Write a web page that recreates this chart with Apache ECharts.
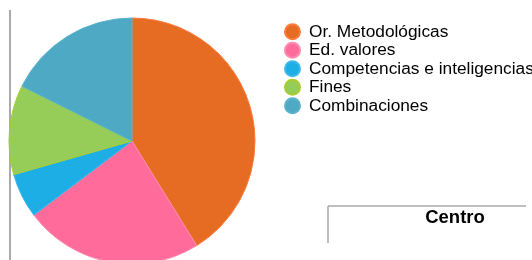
<!DOCTYPE html>
<html>
<head>
<meta charset="utf-8">
<script src="https://cdn.jsdelivr.net/npm/echarts@6/dist/echarts.min.js"></script>
<style>
  html, body { margin: 0; padding: 0; background: #fff; }
  #chart { width: 532px; height: 260px; }
</style>
</head>
<body>
<div id="chart"></div>
<script>
// datos del gráfico
var categorias = ['Or. Metodológicas', 'Ed. valores', 'Competencias e inteligencias', 'Fines', 'Combinaciones'];
var valores = [7, 4, 1, 2, 3];
var colores = ['#E66C24', '#FF6C9C', '#1EAEE6', '#96CC58', '#4EAAC4'];
var bordes = ['#FF7A3A', '#FF8AAE', '#3CB8EA', '#A8CC30', '#5AB2CA'];
var titulo = 'Centro';

var myChart = echarts.init(document.getElementById('chart'));

var data = [];
for (var i = 0; i < categorias.length; i++) {
    data.push({
        name: categorias[i],
        value: valores[i],
        itemStyle: { color: colores[i], borderColor: bordes[i], borderWidth: 1 }
    });
}

var option = {
    animation: false,
    title: {
        text: titulo,
        left: 450,
        top: 203,
        textAlign: 'center',
        textStyle: { fontFamily: 'Liberation Sans', fontSize: 18.5, fontWeight: 'bold', color: '#000' }
    },
    legend: {
        orient: 'vertical',
        left: 284,
        top: 22.5,
        padding: 0,
        icon: 'circle',
        itemWidth: 15,
        itemHeight: 15,
        itemGap: 0,
        data: categorias,
        textStyle: { fontFamily: 'Liberation Sans', fontSize: 17.3, lineHeight: 18.5, color: '#000', padding: [0, 0, 0, 4] }
    },
    graphic: [
        // línea vertical izquierda
        { type: 'line', shape: { x1: 10, y1: 10, x2: 10, y2: 260 }, style: { stroke: '#aaa', lineWidth: 2 } },
        // recuadro del título
        { type: 'line', shape: { x1: 328, y1: 206, x2: 526, y2: 206 }, style: { stroke: '#aaa', lineWidth: 1.5 } },
        { type: 'line', shape: { x1: 328, y1: 206, x2: 328, y2: 243 }, style: { stroke: '#aaa', lineWidth: 1.5 } }
    ],
    series: [
        {
            type: 'pie',
            center: [132, 141],
            radius: 123,
            startAngle: 90,
            clockwise: true,
            label: { show: false },
            labelLine: { show: false },
            emphasis: { disabled: true },
            data: data
        }
    ]
};
myChart.setOption(option);
</script>
</body>
</html>
